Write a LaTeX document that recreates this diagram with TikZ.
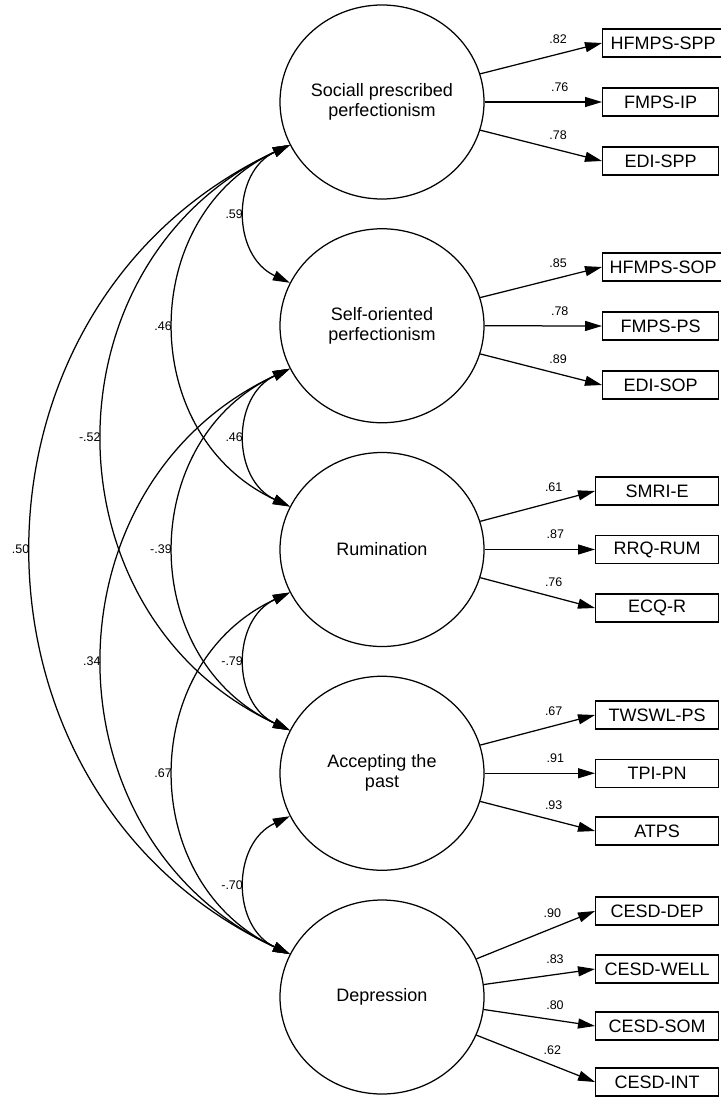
\documentclass[tikz,border=0pt]{standalone}
\usepackage{fontspec}
\setmainfont{Liberation Sans}
\usetikzlibrary{arrows.meta,shapes.geometric}
\begin{document}
\begin{tikzpicture}[x=1pt,y=1pt,
  lat/.style={draw, ellipse, line width=1.25pt, minimum width=204pt, minimum height=194pt, inner sep=0pt, align=center, font=\fontsize{18}{20}\selectfont},
  ind/.style={draw, rectangle, line width=1.25pt, minimum height=28pt, inner sep=0pt, font=\fontsize{18}{20}\selectfont, anchor=west},
  load/.style={-{Triangle[length=17pt,width=10pt]}, line width=1.25pt},
  cov/.style={{Triangle[length=17pt,width=10pt]}-{Triangle[length=17pt,width=10pt]}, line width=1.25pt, out=205, in=155, looseness=1.2},
  lbl/.style={font=\fontsize{12.5}{14}\selectfont, inner sep=0pt},
  ll/.style={lbl, pos=0.64, above=10pt},
  cl/.style={lbl, left=2.5pt}
]
\useasboundingbox (0,0) rectangle (720,-1097);
% latent variables
\node[lat] (S) at (382,-102) {Sociall prescribed\\perfectionism};
\node[lat] (O) at (382,-325.75) {Self-oriented\\perfectionism};
\node[lat] (R) at (382,-549.5) {Rumination};
\node[lat] (A) at (382,-773.25) {Accepting the\\past};
\node[lat] (D) at (382,-997) {Depression};
% indicators
\node[ind, minimum width=121pt] (s1) at (602,-43) {HFMPS-SPP};
\node[ind, minimum width=116pt] (s2) at (602,-102) {FMPS-IP};
\node[ind, minimum width=116pt] (s3) at (602,-161) {EDI-SPP};
\node[ind, minimum width=121pt] (o1) at (602,-267) {HFMPS-SOP};
\node[ind, minimum width=116pt] (o2) at (602,-326) {FMPS-PS};
\node[ind, minimum width=116pt] (o3) at (602,-385) {EDI-SOP};
\node[ind, minimum width=123pt] (r1) at (595,-491) {SMRI-E};
\node[ind, minimum width=123pt] (r2) at (595,-549.5) {RRQ-RUM};
\node[ind, minimum width=123pt] (r3) at (595,-608) {ECQ-R};
\node[ind, minimum width=123pt] (a1) at (595,-715) {TWSWL-PS};
\node[ind, minimum width=123pt] (a2) at (595,-773.25) {TPI-PN};
\node[ind, minimum width=123pt] (a3) at (595,-831) {ATPS};
\node[ind, minimum width=123pt] (d1) at (595,-911) {CESD-DEP};
\node[ind, minimum width=123pt] (d2) at (595,-969) {CESD-WELL};
\node[ind, minimum width=123pt] (d3) at (595,-1026) {CESD-SOM};
\node[ind, minimum width=123pt] (d4) at (595,-1082) {CESD-INT};
% loadings
\draw[load] (S.16) -- (s1.west) node[ll]{.82};
\draw[load] (S.0) -- (s2.west) node[ll]{.76};
\draw[load] (S.-16) -- (s3.west) node[ll]{.78};
\draw[load] (O.16) -- (o1.west) node[ll]{.85};
\draw[load] (O.0) -- (o2.west) node[ll]{.78};
\draw[load] (O.-16) -- (o3.west) node[ll]{.89};
\draw[load] (R.16) -- (r1.west) node[ll]{.61};
\draw[load] (R.0) -- (r2.west) node[ll]{.87};
\draw[load] (R.-16) -- (r3.west) node[ll]{.76};
\draw[load] (A.16) -- (a1.west) node[ll]{.67};
\draw[load] (A.0) -- (a2.west) node[ll]{.91};
\draw[load] (A.-16) -- (a3.west) node[ll]{.93};
\draw[load] (D.22) -- (d1.west) node[ll]{.90};
\draw[load] (D.7.5) -- (d2.west) node[ll]{.83};
\draw[load] (D.-7.5) -- (d3.west) node[ll]{.80};
\draw[load] (D.-22) -- (d4.west) node[ll]{.62};
% covariances
\draw[cov] (S.205) to node[cl]{.59} (O.155);
\draw[cov] (S.205) to node[cl]{.46} (R.155);
\draw[cov] (S.205) to node[cl]{-.52} (A.155);
\draw[cov] (S.205) to node[cl]{.50} (D.155);
\draw[cov] (O.205) to node[cl]{.46} (R.155);
\draw[cov] (O.205) to node[cl]{-.39} (A.155);
\draw[cov] (O.205) to node[cl]{.34} (D.155);
\draw[cov] (R.205) to node[cl]{-.79} (A.155);
\draw[cov] (R.205) to node[cl]{.67} (D.155);
\draw[cov] (A.205) to node[cl]{-.70} (D.155);
\end{tikzpicture}
\end{document}
